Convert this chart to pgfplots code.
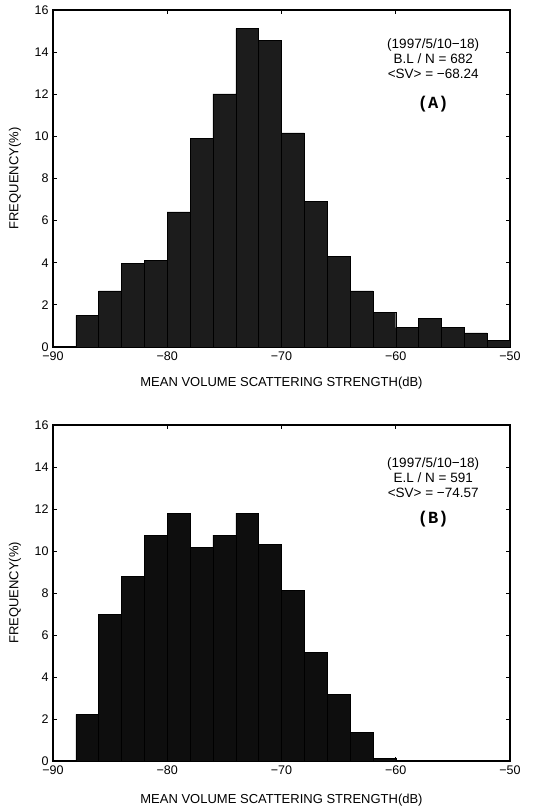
\documentclass[border=0pt]{standalone}
\usepackage{fontspec}
\setmainfont{Liberation Sans}
\newfontfamily\labfont{Liberation Mono}
\usepackage{pgfplots}
\pgfplotsset{compat=1.18}

\definecolor{barA}{HTML}{1C1C1C}
\definecolor{barB}{HTML}{0E0E0E}

\pgfplotsset{
  histo/.style={
    scale only axis,
    width=457pt, height=337pt,
    xmin=-90, xmax=-50, ymin=0, ymax=16,
    xtick={-90,-80,-70,-60,-50},
    xticklabels={−90,−80,−70,−60,−50},
    ytick={0,2,...,16},
    tick align=inside,
    major tick length=4pt,
    axis line style={line width=1.1pt},
    tick style={line width=0.9pt, black},
    ticklabel style={font=\fontsize{12.5}{14}\selectfont},
    /pgf/number format/assume math mode=true,
    xlabel={MEAN VOLUME SCATTERING STRENGTH(dB)},
    ylabel={FREQUENCY(\%)},
    label style={font=\fontsize{13}{15}\selectfont},
    xlabel style={at={(axis description cs:0.5,-0.108)}, anchor=center},
    ylabel style={at={(axis description cs:-0.083,0.5)}, anchor=center},
    xticklabel style={yshift=-1pt},
    yticklabel style={xshift=-1pt},
  },
}

\begin{document}
\begin{tikzpicture}
\useasboundingbox (0pt,0pt) rectangle (534pt,812pt);

\begin{axis}[histo, at={(53pt,465pt)}, anchor=south west]
  \addplot[ybar interval, fill=barA, draw=black, line width=0.4pt] coordinates {
    (-88, 1.50) (-86, 2.66) (-84, 3.98) (-82, 4.12) (-80, 6.42)
    (-78, 9.89) (-76, 12.02) (-74, 15.12) (-72, 14.55) (-70, 10.17)
    (-68, 6.93) (-66, 4.30) (-64, 2.66) (-62, 1.66) (-60, 0.92)
    (-58, 1.35) (-56, 0.92) (-54, 0.67) (-52, 0.32) (-50, 0.32)
  };
  \node[align=center, font=\fontsize{13.5}{15}\selectfont, anchor=north]
    at (rel axis cs:0.832,0.925)
    {(1997/5/10−18)\\B.L / N = 682\\<SV> = −68.24};
  \node[font=\labfont\bfseries\fontsize{17}{19}\selectfont]
    at (rel axis cs:0.832,0.72) {(A)};
\end{axis}

\begin{axis}[histo, at={(53pt,51pt)}, anchor=south west, height=336pt,
  xlabel style={at={(axis description cs:0.5,-0.116)}}]
  \addplot[ybar interval, fill=barB, draw=black, line width=0.4pt] coordinates {
    (-88, 2.22) (-86, 6.98) (-84, 8.78) (-82, 10.76) (-80, 11.80)
    (-78, 10.17) (-76, 10.76) (-74, 11.80) (-72, 10.33) (-70, 8.14)
    (-68, 5.17) (-66, 3.19) (-64, 1.35) (-62, 0.13) (-60, 0)
    (-58, 0) (-56, 0) (-54, 0) (-52, 0) (-50, 0)
  };
  \node[align=center, font=\fontsize{13.5}{15}\selectfont, anchor=north]
    at (rel axis cs:0.832,0.914)
    {(1997/5/10−18)\\E.L / N = 591\\<SV> = −74.57};
  \node[font=\labfont\bfseries\fontsize{17}{19}\selectfont]
    at (rel axis cs:0.832,0.72) {(B)};
\end{axis}
\end{tikzpicture}
\end{document}
